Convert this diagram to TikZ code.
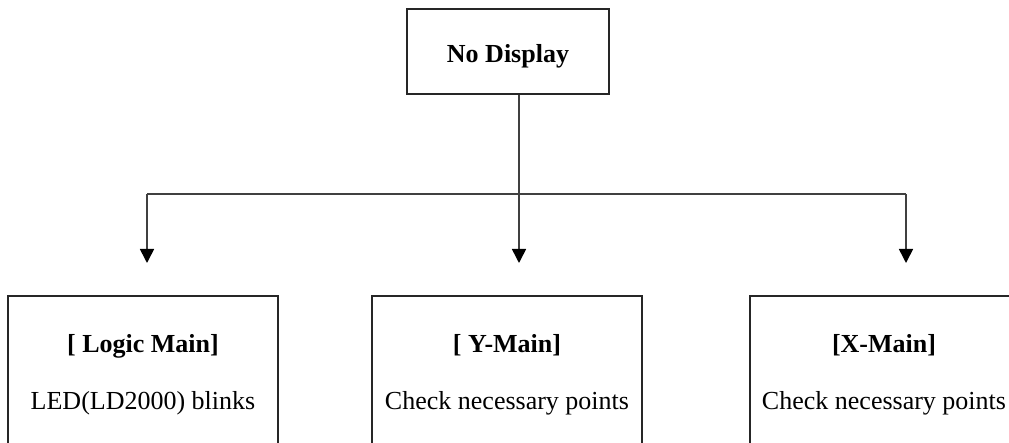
\documentclass[tikz,border=0pt]{standalone}
\usepackage{fontspec}
\setmainfont{Liberation Serif}
\usetikzlibrary{arrows.meta}

\tikzset{
		box/.style      = {shape=rectangle, draw=black!85, line width=1.6pt,
				align=center, inner sep=0pt},
		topbox/.style   = {box, minimum width=202, minimum height=85,
				text height=23pt, text depth=0pt,
				font=\fontsize{26}{31}\selectfont\bfseries},
		mainbox/.style  = {box, minimum width=270, minimum height=158,
				font=\fontsize{26}{57}\selectfont},
		wire/.style     = {draw=black!75, line width=1.6pt},
		drop/.style     = {wire, -{Triangle[length=14pt, width=14pt, color=black]}}
	}

\begin{document}
\begin{tikzpicture}
		[x=1pt, y=-1pt]
		\clip (0,0) rectangle (1009,443);
		\useasboundingbox (0,0) rectangle (1009,443);

		\node [topbox] (nodisp) at (508,51.5) {No Display};

		\node [mainbox] (logicmain) at (143,375) {\textbf{[ Logic Main]}\\LED(LD2000) blinks};
		\node [mainbox] (ymain) at (507,375) {\textbf{[ Y-Main]}\\Check necessary points};
		\node [mainbox, minimum width=268] (xmain) at (884,375) {\textbf{[X-Main]}\\Check necessary points};

		% bus
		\coordinate (bus)  at (519,194);
		\coordinate (busL) at (147,194);
		\coordinate (busR) at (906,194);
		\coordinate (tipL) at (147,263);
		\coordinate (tipM) at (519,263);
		\coordinate (tipR) at (906,263);

		\draw [wire] (nodisp.south -| bus) -- (bus);
		\draw [wire] (busL) -- (busR);
		\draw [drop] (busL) -- (tipL);
		\draw [drop] (bus) -- (tipM);
		\draw [drop] (busR) -- (tipR);
	\end{tikzpicture}
\end{document}
